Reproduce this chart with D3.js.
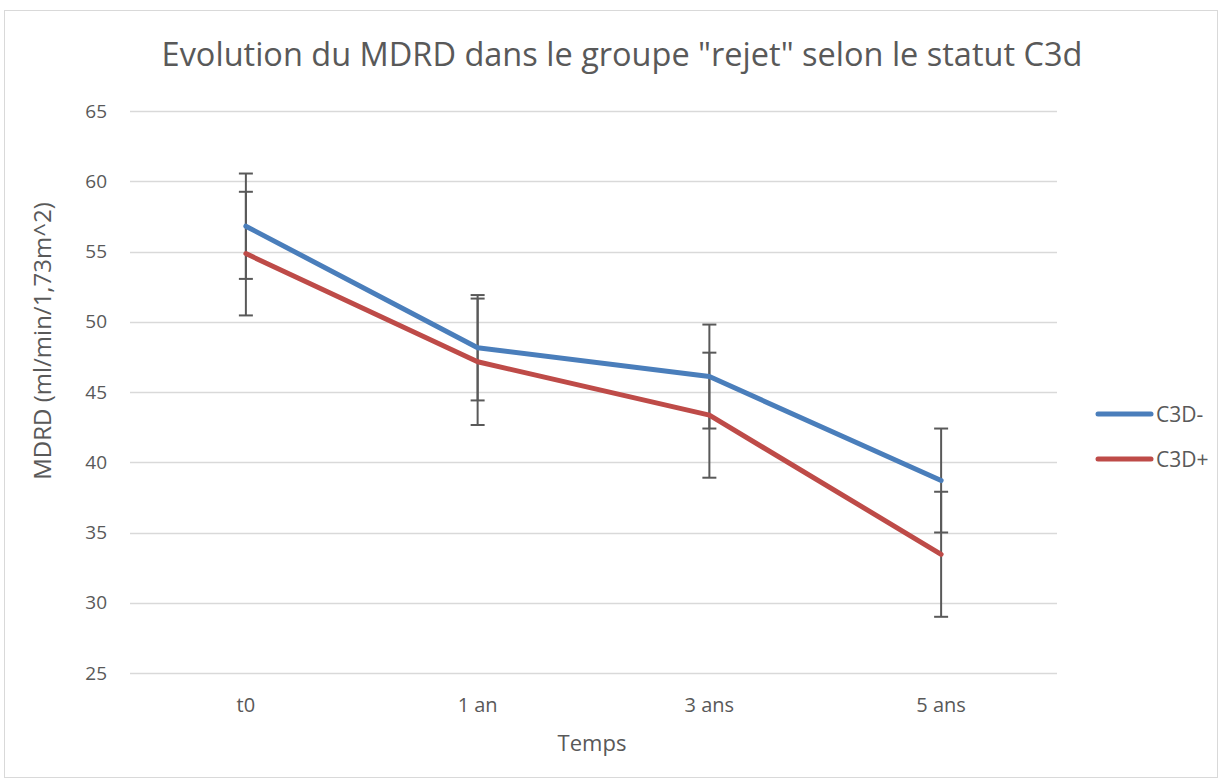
<!DOCTYPE html>
<html>
<head>
<meta charset="utf-8">
<script src="https://cdn.jsdelivr.net/npm/d3@7"></script>
<style>
  body { margin: 0; background: #fff; }
  svg { display: block; font-family: "Open Sans", "Noto Sans", sans-serif; }
</style>
</head>
<body>
<svg id="chart" width="1222" height="782"></svg>
<script>
// Time points and MDRD means / error amounts per C3d group
const categories = ["t0", "1 an", "3 ans", "5 ans"];
const seriesNames = ["C3D-", "C3D+"];
const c3dNeg = [56.8, 48.15, 46.1, 38.7];
const c3dNegErr = [3.75, 3.75, 3.7, 3.7];
const c3dPos = [54.85, 47.15, 43.35, 33.45];
const c3dPosErr = [4.4, 4.5, 4.45, 4.45];
const yTicks = [25, 30, 35, 40, 45, 50, 55, 60, 65];

const colors = ["#4a7ebb", "#be4b48"];
const series = [
  { name: seriesNames[0], values: c3dNeg, err: c3dNegErr, color: colors[0] },
  { name: seriesNames[1], values: c3dPos, err: c3dPosErr, color: colors[1] }
];

const svg = d3.select("#chart");
const plot = { left: 130, right: 1057, top: 111, bottom: 673 };

// chart frame
svg.append("rect")
  .attr("x", 4.5).attr("y", 10.5)
  .attr("width", 1213).attr("height", 767)
  .attr("fill", "#fff").attr("stroke", "#d9d9d9").attr("stroke-width", 1);

const x = d3.scaleBand().domain(categories).range([plot.left, plot.right]);
const y = d3.scaleLinear().domain([25, 65]).range([plot.bottom, plot.top]);

// horizontal gridlines
svg.append("g")
  .selectAll("line").data(yTicks).join("line")
  .attr("x1", plot.left).attr("x2", plot.right)
  .attr("y1", d => Math.round(y(d)) + 0.5).attr("y2", d => Math.round(y(d)) + 0.5)
  .attr("stroke", "#d9d9d9").attr("stroke-width", 1.3);

// y axis labels
const yAxis = d3.axisLeft(y).tickValues(yTicks).tickSize(0).tickPadding(0);
svg.append("g")
  .attr("transform", `translate(${plot.left - 23},0)`)
  .call(yAxis)
  .call(g => g.select(".domain").remove())
  .call(g => g.selectAll("text")
    .attr("fill", "#595959").attr("font-size", 19)
    .attr("font-family", "'Open Sans', sans-serif"));

// x axis labels
const xAxis = d3.axisBottom(x).tickSize(0).tickPadding(0);
svg.append("g")
  .attr("transform", `translate(0,${plot.bottom})`)
  .call(xAxis)
  .call(g => g.select(".domain").remove())
  .call(g => g.selectAll("text")
    .attr("dy", null).attr("y", 39)
    .attr("fill", "#595959").attr("font-size", 20)
    .attr("font-family", "'Open Sans', sans-serif"));

const cx = c => x(c) + x.bandwidth() / 2;

// error bars
series.forEach(s => {
  const g = svg.append("g").attr("stroke", "#595959").attr("stroke-width", 2);
  categories.forEach((c, i) => {
    const xc = cx(c);
    const hi = y(s.values[i] + s.err[i]);
    const lo = y(s.values[i] - s.err[i]);
    g.append("line").attr("x1", xc).attr("x2", xc).attr("y1", hi).attr("y2", lo);
    g.append("line").attr("x1", xc - 7).attr("x2", xc + 7).attr("y1", hi).attr("y2", hi);
    g.append("line").attr("x1", xc - 7).attr("x2", xc + 7).attr("y1", lo).attr("y2", lo);
  });
});

// series lines
const line = d3.line().x((d, i) => cx(categories[i])).y(d => y(d));
series.forEach(s => {
  svg.append("path")
    .datum(s.values)
    .attr("d", line)
    .attr("fill", "none")
    .attr("stroke", s.color)
    .attr("stroke-width", 5)
    .attr("stroke-linejoin", "round")
    .attr("stroke-linecap", "round");
});

// title
svg.append("text")
  .attr("x", 622).attr("y", 66)
  .attr("text-anchor", "middle")
  .attr("fill", "#595959").attr("font-size", 32.5)
  .text('Evolution du MDRD dans le groupe "rejet" selon le statut C3d');

// axis titles
svg.append("text")
  .attr("x", 592).attr("y", 751)
  .attr("text-anchor", "middle")
  .attr("fill", "#595959").attr("font-size", 22)
  .text("Temps");

svg.append("text")
  .attr("transform", "translate(51,341) rotate(-90)")
  .attr("text-anchor", "middle")
  .attr("fill", "#595959").attr("font-size", 24)
  .text("MDRD (ml/min/1,73m^2)");

// legend
const legend = svg.append("g");
series.forEach((s, i) => {
  const ly = 414 + i * 45;
  legend.append("line")
    .attr("x1", 1098).attr("x2", 1151).attr("y1", ly).attr("y2", ly)
    .attr("stroke", s.color).attr("stroke-width", 5).attr("stroke-linecap", "round");
  legend.append("text")
    .attr("x", 1156).attr("y", ly + 7.5)
    .attr("fill", "#595959").attr("font-size", 21)
    .text(s.name);
});
</script>
</body>
</html>
